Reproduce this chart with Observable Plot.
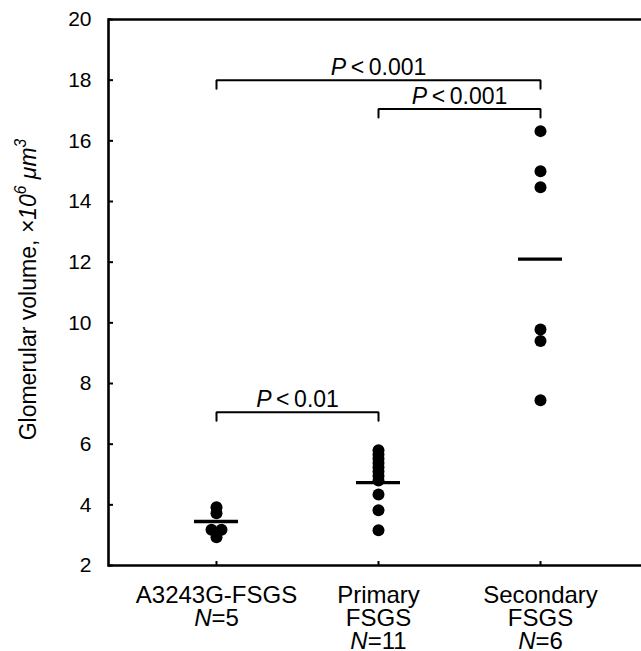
<!DOCTYPE html>
<html>
<head>
<meta charset="utf-8">
<script src="https://cdn.jsdelivr.net/npm/d3@7"></script>
<script src="https://cdn.jsdelivr.net/npm/@observablehq/plot@0.6"></script>
<style>
  html, body { margin: 0; padding: 0; background: #fff; overflow: hidden; }
  svg { display: block; }
</style>
</head>
<body>
<script>
// ---- data ----
const groups = ["A3243G-FSGS", "Primary FSGS", "Secondary FSGS"];
const xLabels = ["A3243G-FSGS\n*N*=5", "Primary\nFSGS\n*N*=11", "Secondary\nFSGS\n*N*=6"];
const a3243gValues = [3.92, 3.72, 3.18, 3.18, 2.93];
const primaryValues = [5.8, 5.66, 5.52, 5.38, 5.24, 5.1, 4.95, 4.8, 4.34, 3.82, 3.16];
const secondaryValues = [16.32, 15.0, 14.47, 9.78, 9.4, 7.45];
const groupMeans = [3.45, 4.73, 12.1];
const yTicks = [2, 4, 6, 8, 10, 12, 14, 16, 18, 20];
const bracketFrom = [0, 1, 0];
const bracketTo = [2, 2, 1];
const bracketLevel = [18, 17.05, 7.05];
const bracketLabels = ["*P*\u2009<\u20090.001", "*P*\u2009<\u20090.001", "*P*\u2009<\u20090.01"];
const yLabel = "Glomerular volume, *×10^6^ μm^3^*";

// ---- build tables ----
const valuesByGroup = [a3243gValues, primaryValues, secondaryValues];
const points = [];
valuesByGroup.forEach((vals, g) => {
  const seen = new Map();
  vals.forEach(v => {
    const count = vals.filter(w => w === v).length;
    const k = seen.get(v) || 0;
    seen.set(v, k + 1);
    const slot = count > 1 ? (k === 0 ? -1 : 1) : 0;
    points.push({g, v, slot});
  });
});
const brackets = bracketFrom.map((a, i) => ({a, b: bracketTo[i], y: bracketLevel[i], label: bracketLabels[i], id: i}));
const drop = 0.28;
const bracketPts = brackets.flatMap(d => [
  {id: d.id, x: d.a, y: d.y - drop},
  {id: d.id, x: d.a, y: d.y},
  {id: d.id, x: d.b, y: d.y},
  {id: d.id, x: d.b, y: d.y - drop}
]);

const chart = Plot.plot({
  width: 641,
  height: 651,
  marginLeft: 108,
  marginRight: 0,
  marginTop: 19,
  marginBottom: 86,
  style: {fontFamily: "'Liberation Sans', Arial, Helvetica, sans-serif", fontSize: "21px", background: "white", color: "black"},
  x: {type: "linear", domain: [0, 2], range: [216, 540]},
  y: {domain: [2, 20]},
  marks: [
    Plot.ruleY([2, 20], {strokeWidth: 2.6}),
    Plot.frame({anchor: "left", strokeWidth: 2.6, strokeLinecap: "square"}),
    Plot.axisY({ticks: yTicks, tickSize: 0, tickPadding: 17, fontSize: 21, label: null}),
    Plot.axisY({ticks: yTicks, tickSize: 5, dx: 5, text: null, strokeWidth: 2, label: null}),
    Plot.axisX({ticks: [0, 1, 2], tickSize: 4, dy: -4, text: null, strokeWidth: 2, label: null}),
    Plot.text(xLabels, {x: (d, i) => i, text: d => d, frameAnchor: "bottom", lineAnchor: "top", textAnchor: "middle", dy: 21, fontSize: 24, lineHeight: 0.96}),
    Plot.text([yLabel], {text: d => d, frameAnchor: "left", textAnchor: "middle", dx: -80, dy: -3, rotate: -90, fontSize: 23}),
    Plot.line(bracketPts, {x: "x", y: "y", z: "id", strokeWidth: 2, strokeLinejoin: "miter"}),
    Plot.text(brackets, {x: d => (d.a + d.b) / 2, y: "y", text: "label", lineAnchor: "bottom", dy: -5, fontSize: 23}),
    Plot.ruleY(groupMeans, {x1: (d, i) => i, x2: (d, i) => i, y: d => d, strokeWidth: 3.3, insetLeft: -22, insetRight: -22}),
    ...[-1, 0, 1].map(k => Plot.dot(points.filter(p => p.slot === k), {x: "g", y: "v", r: 6, fill: "black", stroke: null, dx: k * 5}))
  ]
});
document.body.appendChild(chart);

// ---- rich text: *italic*, ^superscript^ ----
const NS = "http://www.w3.org/2000/svg";
function richify(node) {
  const s = node.textContent;
  if (!/[*^]/.test(s)) return;
  const fs = parseFloat(getComputedStyle(node).fontSize) || 21;
  const segs = [];
  let italic = false, sup = false, buf = "";
  const flush = () => { if (buf) segs.push({t: buf, italic, sup}); buf = ""; };
  for (const ch of s) {
    if (ch === "*") { flush(); italic = !italic; }
    else if (ch === "^") { flush(); sup = !sup; }
    else buf += ch;
  }
  flush();
  node.textContent = "";
  let raised = false;
  for (const sg of segs) {
    const t = document.createElementNS(NS, "tspan");
    t.textContent = sg.t;
    if (sg.italic) t.setAttribute("font-style", "italic");
    if (sg.sup) {
      t.setAttribute("font-size", (0.68 * fs).toFixed(2));
      if (!raised) { t.setAttribute("dy", (-0.42 * fs).toFixed(2)); raised = true; }
    } else if (raised) {
      t.setAttribute("dy", (0.42 * fs).toFixed(2));
      raised = false;
    }
    node.appendChild(t);
  }
}
chart.querySelectorAll("text").forEach(txt => {
  const spans = txt.querySelectorAll(":scope > tspan");
  if (spans.length) spans.forEach(richify);
  else richify(txt);
});
</script>
</body>
</html>
